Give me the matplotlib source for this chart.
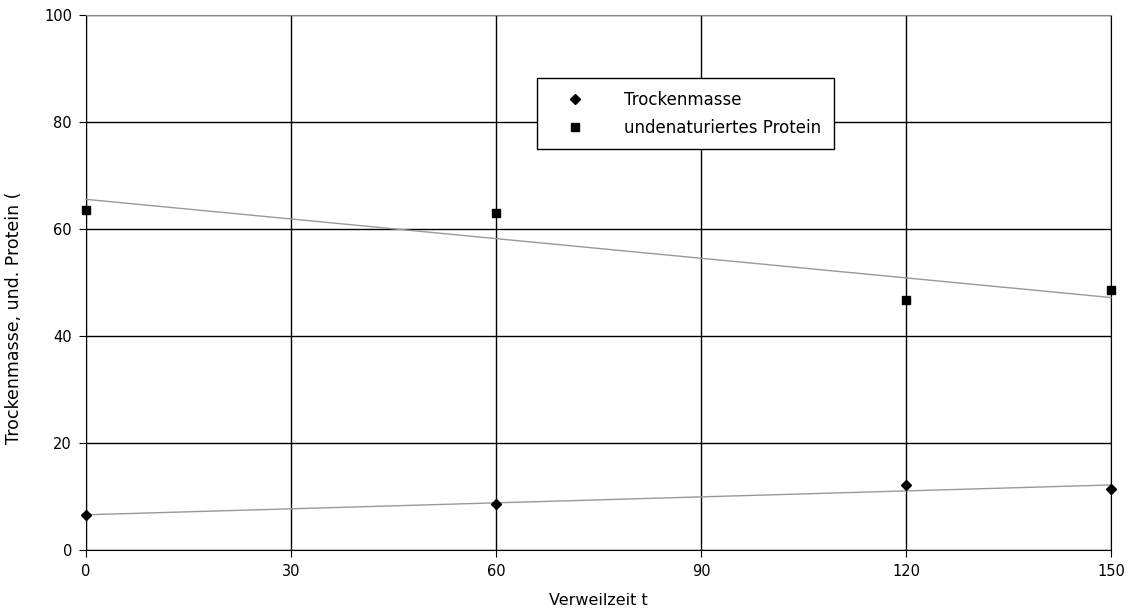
import matplotlib
matplotlib.use("Agg")
import matplotlib.pyplot as plt
import numpy as np

plt.rcParams['font.family'] = ['DejaVu Sans']

time_min = [0, 60, 120, 150]
trockenmasse = [6.5, 8.6, 12.1, 11.4]
protein = [63.5, 63.0, 46.7, 48.6]
x_ticks = [0, 30, 60, 90, 120, 150]
y_ticks = [0, 20, 40, 60, 80, 100]

fig = plt.figure(figsize=(11.29, 6.14), dpi=100)
ax = fig.add_axes([86/1129, 1-550/614, (1111-86)/1129, (550-15)/614])

ax.set_xlim(0, 150)
ax.set_ylim(0, 100)
ax.set_xticks(x_ticks)
ax.set_yticks(y_ticks)
ax.grid(True, color='black', linewidth=1)
ax.set_axisbelow(True)
ax.tick_params(labelsize=10.5, length=5, color='black', pad=5)
for s in ax.spines.values():
    s.set_color('black')
ax.spines['top'].set_color('#888888')

xs = np.array([0, 150])
for ys in (trockenmasse, protein):
    k, d = np.polyfit(time_min, ys, 1)
    ax.plot(xs, k * xs + d, color='#999999', linewidth=1, zorder=3, clip_on=False)

ax.plot(time_min, trockenmasse, linestyle='none', marker='D', markersize=5,
        color='black', label='Trockenmasse', zorder=4, clip_on=False)
ax.plot(time_min, protein, linestyle='none', marker='s', markersize=6,
        color='black', label='undenaturiertes Protein', zorder=4, clip_on=False)

leg = ax.legend(loc='upper left', bbox_to_anchor=(0.44, 0.882), fancybox=False,
                edgecolor='black', framealpha=1, fontsize=12, borderpad=0.75,
                labelspacing=0.6, handlelength=3.0, handletextpad=1.5,
                borderaxespad=0)
leg.get_frame().set_linewidth(1)

ax.set_xlabel('Verweilzeit t', fontsize=11.5, labelpad=10)
fig.text(14/1129, 1-318/614, 'Trockenmasse, und. Protein (', rotation=90,
         va='center', ha='center', fontsize=12.5)

fig.savefig('out.png', dpi=100)
